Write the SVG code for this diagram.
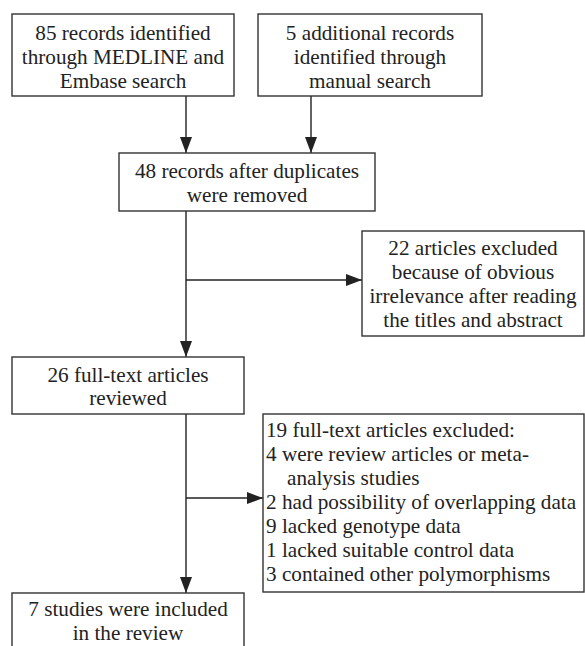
<svg xmlns="http://www.w3.org/2000/svg" width="585" height="646" viewBox="0 0 585 646">
<style>
.box{fill:#fff;stroke:#333;stroke-width:1.4}
text{font-family:'Liberation Serif','Times New Roman','DejaVu Serif',serif;font-size:21.2px;fill:#222}
.c{text-anchor:middle}
.ln{stroke:#222;stroke-width:1.4;fill:none}
</style>
<defs>
<marker id="ah" markerWidth="16" markerHeight="12" refX="16" refY="6" orient="auto" markerUnits="userSpaceOnUse">
<path d="M0,0 L16,6 L0,12 Z" fill="#222"/>
</marker>
</defs>
<rect width="585" height="646" fill="#fff"/>
<g id="connectors">
<line class="ln" x1="186" y1="96" x2="186" y2="153" marker-end="url(#ah)"/>
<line class="ln" x1="311" y1="96" x2="311" y2="153" marker-end="url(#ah)"/>
<line class="ln" x1="186" y1="211" x2="186" y2="357" marker-end="url(#ah)"/>
<line class="ln" x1="186" y1="280" x2="362" y2="280" marker-end="url(#ah)"/>
<line class="ln" x1="186" y1="414" x2="186" y2="593" marker-end="url(#ah)"/>
<line class="ln" x1="186" y1="498" x2="263" y2="498" marker-end="url(#ah)"/>
</g>
<g id="n1">
<rect class="box" x="12" y="14" width="222" height="82"/>
<text class="c" x="123" y="40">85 records identified</text>
<text class="c" x="123" y="64">through MEDLINE and</text>
<text class="c" x="123" y="88">Embase search</text>
</g>
<g id="n2">
<rect class="box" x="258" y="14" width="224" height="82"/>
<text class="c" x="370" y="40">5 additional records</text>
<text class="c" x="370" y="64">identified through</text>
<text class="c" x="370" y="88">manual search</text>
</g>
<g id="n3">
<rect class="box" x="119" y="153" width="256" height="58"/>
<text class="c" x="247" y="178">48 records after duplicates</text>
<text class="c" x="247" y="202">were removed</text>
</g>
<g id="n4">
<rect class="box" x="362" y="231" width="222" height="105"/>
<text class="c" x="473" y="255">22 articles excluded</text>
<text class="c" x="473" y="279">because of obvious</text>
<text class="c" x="473" y="303">irrelevance after reading</text>
<text class="c" x="473" y="327">the titles and abstract</text>
</g>
<g id="n5">
<rect class="box" x="12" y="357" width="232" height="57"/>
<text class="c" x="128" y="382">26 full-text articles</text>
<text class="c" x="128" y="405">reviewed</text>
</g>
<g id="n6">
<rect class="box" x="263" y="414" width="321" height="178"/>
<text x="266" y="437">19 full-text articles excluded:</text>
<text x="266" y="461">4 were review articles or meta-</text>
<text x="287" y="485">analysis studies</text>
<text x="266" y="509">2 had possibility of overlapping data</text>
<text x="266" y="533">9 lacked genotype data</text>
<text x="266" y="557">1 lacked suitable control data</text>
<text x="266" y="581">3 contained other polymorphisms</text>
</g>
<g id="n7">
<rect class="box" x="12" y="593" width="232" height="70"/>
<text class="c" x="128" y="616">7 studies were included</text>
<text class="c" x="128" y="640">in the review</text>
</g>
</svg>
